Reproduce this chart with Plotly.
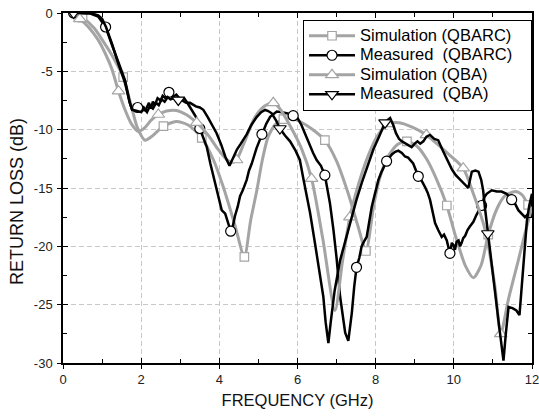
import plotly.graph_objects as go

# ---------------- data ----------------
sim_qbarc_f = [0.3, 0.5, 0.8, 1.1, 1.3, 1.54, 1.75, 1.9, 2.1, 2.3, 2.57, 2.9, 3.2, 3.55, 3.85, 4.1, 4.4, 4.64,
               4.8, 4.96, 5.1, 5.25, 5.45, 5.64, 5.85, 6.06, 6.35, 6.7, 7.0, 7.3, 7.55, 7.75, 7.95, 8.1, 8.3,
               8.55, 8.8, 9.05, 9.3, 9.55, 9.82, 10.05, 10.3, 10.5, 10.7, 10.88, 11.1, 11.3, 11.57, 11.75, 11.9, 12.0]
sim_qbarc_db = [-0.1, -0.4, -1.3, -2.8, -3.9, -5.5, -8.0, -9.8, -10.9, -10.5, -9.7, -9.3, -9.6, -10.7, -12.6, -14.9,
                -18.2, -20.9, -17.8, -15.2, -12.6, -10.6, -9.5, -9.1, -9.0, -9.3, -9.9, -10.9, -12.7, -15.5, -18.3,
                -20.4, -16.5, -14.2, -12.4, -11.3, -11.0, -11.4, -12.5, -14.2, -16.5, -19.2, -21.7, -22.7, -21.6,
                -19.0, -16.8, -15.7, -15.3, -15.6, -16.45, -17.0]
sim_qbarc_marks = [0.5, 1.54, 2.57, 3.55, 4.64, 5.64, 6.7, 7.75, 8.8, 9.82, 10.88, 11.9]

meas_qbarc_f = [0.27, 0.5, 0.7, 0.9, 1.09, 1.25, 1.42, 1.59, 1.71, 1.77, 1.85, 1.91, 2.0, 2.05, 2.1, 2.15, 2.2, 2.25,
                2.3, 2.35, 2.42, 2.5, 2.55, 2.62, 2.71, 2.8, 2.9, 3.0, 3.1, 3.2, 3.3, 3.4, 3.5, 3.6, 3.68, 3.77,
                3.85, 3.93, 4.0, 4.06, 4.15, 4.22, 4.29, 4.35, 4.4, 4.47, 4.53, 4.6, 4.7, 4.76, 4.83, 4.95, 5.09,
                5.2, 5.3, 5.4, 5.47, 5.6, 5.75, 5.89, 6.0, 6.1, 6.2, 6.32, 6.4, 6.49, 6.6, 6.7, 6.76, 6.83, 6.92,
                7.0, 7.09, 7.16, 7.22, 7.3, 7.35, 7.39, 7.45, 7.51, 7.58, 7.64, 7.7, 7.77, 7.84, 7.9, 7.98, 8.07,
                8.14, 8.2, 8.28, 8.35, 8.42, 8.5, 8.58, 8.67, 8.75, 8.83, 8.96, 9.09, 9.18, 9.26, 9.33, 9.39, 9.45,
                9.52, 9.6, 9.65, 9.69, 9.75, 9.82, 9.87, 9.9, 9.95, 9.99, 10.03, 10.07, 10.12, 10.16, 10.2, 10.24,
                10.29, 10.35, 10.41, 10.5, 10.58, 10.64, 10.71, 10.78, 10.84, 10.97, 11.1, 11.22, 11.35, 11.48,
                11.56, 11.65, 11.74, 11.82, 11.91, 11.97, 12.0]
meas_qbarc_db = [0.0, 0.0, -0.05, -0.3, -1.2, -2.7, -4.3, -5.8, -7.7, -8.3, -8.3, -8.1, -8.3, -8.0, -8.4, -8.1, -7.7,
                 -8.2, -7.6, -7.9, -7.3, -7.5, -7.1, -7.3, -6.8, -7.2, -7.0, -7.4, -7.3, -7.8, -8.4, -8.9, -9.9,
                 -10.7, -11.5, -12.9, -14.0, -15.2, -16.0, -16.9, -17.2, -18.0, -18.7, -18.2, -17.4, -16.6, -15.7,
                 -15.2, -14.3, -13.5, -12.9, -11.6, -10.4, -9.5, -8.9, -8.6, -8.45, -8.5, -8.6, -8.8, -9.0, -9.6,
                 -10.4, -11.5, -12.0, -12.6, -13.1, -13.9, -15.0, -16.3, -18.6, -21.0, -24.3, -26.2, -27.4, -28.1,
                 -27.0, -25.7, -23.5, -21.8, -21.0, -20.0, -19.6, -19.2, -17.8, -16.6, -15.5, -14.3, -13.7, -13.2,
                 -12.7, -12.4, -12.1, -11.9, -11.8, -12.0, -12.3, -12.4, -12.9, -14.0, -14.4, -14.9, -15.4, -16.0,
                 -17.0, -18.0, -18.6, -18.9, -19.2, -19.0, -19.5, -20.2, -20.6, -19.7, -19.9, -20.3, -19.6, -19.5,
                 -20.0, -19.7, -19.3, -19.1, -18.6, -18.3, -17.9, -17.3, -16.9, -16.5, -15.8, -15.5, -15.2, -15.3,
                 -15.3, -15.5, -16.0, -16.3, -16.9, -17.2, -17.5, -17.2, -17.5, -16.0]
meas_qbarc_marks = [0.27, 1.09, 1.91, 2.71, 3.5, 4.29, 5.09, 5.89, 6.7, 7.51, 8.28, 9.09, 9.9, 10.71, 11.48]

sim_qba_f = [0.35, 0.43, 0.65, 0.9, 1.1, 1.25, 1.42, 1.6, 1.75, 1.93, 2.1, 2.25, 2.44, 2.65, 2.9, 3.15, 3.42, 3.7,
             3.95, 4.2, 4.35, 4.44, 4.65, 4.9, 5.15, 5.38, 5.55, 5.8, 6.1, 6.36, 6.65, 6.96, 7.15, 7.34, 7.55, 7.8,
             8.05, 8.32, 8.6, 8.95, 9.3, 9.6, 9.9, 10.24, 10.5, 10.8, 11.05, 11.2, 11.4, 11.65, 11.85, 12.0]
sim_qba_db = [-0.3, -0.5, -1.2, -2.3, -3.6, -4.8, -6.7, -8.4, -9.5, -10.15, -9.8, -9.2, -8.7, -8.4, -8.35, -8.7,
              -9.4, -10.4, -11.6, -12.6, -12.8, -12.6, -11.0, -9.0, -8.0, -7.7, -8.2, -9.6, -11.6, -14.2, -19.4,
              -25.5, -21.3, -17.5, -14.8, -12.3, -10.5, -9.5, -9.4, -9.8, -10.45, -11.3, -12.2, -13.3, -15.5,
              -18.6, -23.4, -27.5, -24.5, -21.2, -18.5, -16.6]
sim_qba_marks = [0.43, 1.42, 2.44, 3.42, 4.44, 5.38, 6.36, 7.34, 8.32, 9.3, 10.24, 11.2]

meas_qba_f = [0.27, 0.5, 0.7, 0.9, 1.0, 1.1, 1.25, 1.42, 1.59, 1.7, 1.77, 1.9, 2.0, 2.08, 2.15, 2.22, 2.3, 2.38,
              2.45, 2.52, 2.6, 2.68, 2.75, 2.85, 2.95, 3.05, 3.15, 3.25, 3.4, 3.5, 3.59, 3.7, 3.8, 3.93, 4.05, 4.15,
              4.26, 4.35, 4.45, 4.55, 4.7, 4.82, 4.96, 5.07, 5.17, 5.25, 5.34, 5.45, 5.55, 5.68, 5.81, 5.95, 6.06,
              6.15, 6.24, 6.32, 6.45, 6.55, 6.66, 6.72, 6.79, 6.85, 6.95, 7.09, 7.2, 7.35, 7.51, 7.65, 7.8, 7.94,
              8.1, 8.24, 8.37, 8.45, 8.52, 8.6, 8.67, 8.8, 8.92, 9.0, 9.07, 9.14, 9.22, 9.3, 9.39, 9.5, 9.6, 9.72,
              9.82, 9.95, 10.05, 10.16, 10.25, 10.33, 10.37, 10.42, 10.46, 10.55, 10.63, 10.7, 10.75, 10.8, 10.87,
              10.95, 11.05, 11.15, 11.27, 11.33, 11.4, 11.5, 11.6, 11.68, 11.75, 11.82, 11.87, 11.93, 12.0]
meas_qba_db = [0.0, 0.0, 0.0, -0.2, -0.5, -1.2, -2.6, -4.4, -6.0, -7.6, -8.3, -8.4, -8.5, -8.2, -8.5, -8.0, -8.2,
               -7.7, -7.9, -7.4, -7.6, -7.2, -7.4, -7.3, -7.45, -7.5, -7.7, -7.7, -8.0, -8.1, -8.3, -8.9, -9.5,
               -10.3, -11.3, -12.3, -13.1, -12.5, -11.7, -11.2, -10.4, -9.6, -8.9, -8.5, -8.3, -8.4, -8.6, -9.2,
               -9.9, -10.5, -11.0, -11.8, -12.6, -14.2, -15.6, -17.1, -19.8, -22.0, -24.3, -26.5, -28.3, -26.5,
               -23.8, -21.2, -19.8, -17.8, -16.0, -14.5, -13.0, -11.7, -10.5, -9.4, -9.0, -9.6, -10.3, -10.8,
               -11.0, -11.3, -11.5, -11.2, -11.0, -11.2, -11.0, -10.6, -10.45, -10.8, -10.9, -11.8, -12.5, -13.4,
               -13.9, -14.3, -14.6, -14.9, -15.0, -14.2, -13.6, -13.5, -13.6, -14.3, -15.2, -16.8, -18.9, -21.0,
               -23.8, -26.6, -29.8, -27.5, -25.2, -25.3, -25.5, -25.9, -22.8, -20.0, -17.8, -16.5, -15.5]
meas_qba_marks = [0.27, 2.95, 5.55, 8.24, 10.87]

x_tick_vals = [0, 2, 4, 6, 8, 10, 12]
y_tick_vals = [0, -5, -10, -15, -20, -25, -30]

# ---------------- styling ----------------
GRAY = "#a4a4a4"
BLACK = "#000000"
FONT = "Liberation Sans, Arial, sans-serif"
LEG_PX = 16.5   # legend text size (drawn via span)
LEG_ROW = 12.7  # legend font size that sets the row pitch

series = [
    ("Simulation (QBARC)", sim_qbarc_f, sim_qbarc_db, sim_qbarc_marks, GRAY, 3, "square", 8.5, "spline"),
    ("Measured  (QBARC)", meas_qbarc_f, meas_qbarc_db, meas_qbarc_marks, BLACK, 2.5, "circle", 10, "linear"),
    ("Simulation (QBA)", sim_qba_f, sim_qba_db, sim_qba_marks, GRAY, 3, "triangle-up", 11, "spline"),
    ("Measured  (QBA)", meas_qba_f, meas_qba_db, meas_qba_marks, BLACK, 2.5, "triangle-down", 11, "linear"),
]

fig = go.Figure()
for name, fx, fy, marks, color, lw, sym, ms, shape in series:
    lookup = dict(zip(fx, fy))
    my = [lookup[m] for m in marks]
    line = dict(color=color, width=lw, shape=shape)
    if shape == "spline":
        line["smoothing"] = 0.7
    fig.add_trace(go.Scatter(x=fx, y=fy, mode="lines", line=line, showlegend=False, hoverinfo="skip"))
    mk = dict(symbol=sym, size=ms, color="white", line=dict(color=color, width=1.2))
    fig.add_trace(go.Scatter(x=marks, y=my, mode="markers", marker=mk, showlegend=False))
    label = '<span style="font-size:%spx">%s&nbsp;&nbsp;&nbsp;</span>' % (LEG_PX, name.replace("  ", "&nbsp; "))
    fig.add_trace(go.Scatter(x=[None], y=[None], mode="lines+markers", name=label,
                             line=dict(color=color, width=lw), marker=mk, xaxis="x2", yaxis="y2"))

axis_common = dict(
    showline=True, linecolor="black", linewidth=1.5, mirror="allticks",
    ticks="inside", ticklen=5, tickwidth=1.3, tickcolor="black",
    showgrid=True, gridcolor="#c8c8c8", griddash="5px,3px", gridwidth=1,
    zeroline=False, automargin=False, ticklabeloverflow="allow",
    tickfont=dict(family=FONT, size=13, color="#222"),
)

fig.update_xaxes(range=[0, 12], tickvals=x_tick_vals, ticktext=[str(v) for v in x_tick_vals],
                 title=dict(text="FREQUENCY (GHz)", font=dict(family=FONT, size=16.5, color="#111"), standoff=8),
                 minor=dict(dtick=1, ticks="inside", ticklen=4, tickcolor="black", showgrid=False),
                 ticklabelstandoff=4, **axis_common)
fig.update_yaxes(range=[-30, 0], tickvals=y_tick_vals, ticktext=[str(v) for v in y_tick_vals],
                 minor=dict(dtick=2.5, ticks="inside", ticklen=4, tickcolor="black", showgrid=False),
                 ticklabelstandoff=6, **axis_common)

# overlay axes: give the major ticks their outer half (ticks crossing the frame)
stub = dict(showline=False, showgrid=False, zeroline=False, showticklabels=False,
            ticks="outside", ticklen=5, tickwidth=1.3, tickcolor="black", automargin=False)
fig.update_layout(
    xaxis2=dict(overlaying="x", side="bottom", range=[0, 12], tickvals=x_tick_vals, **stub),
    yaxis2=dict(overlaying="y", side="left", range=[-30, 0], tickvals=y_tick_vals, **stub),
)

# y-axis title (placed a little below the axis middle, as in the reference)
fig.add_annotation(text="RETURN LOSS (dB)", textangle=-90, xref="paper", yref="paper",
                   x=-0.098, y=0.46, xanchor="center", yanchor="middle", showarrow=False,
                   font=dict(family=FONT, size=18, color="#111"))

fig.update_layout(
    width=539, height=417,
    margin=dict(l=63, r=7, t=13, b=54),
    paper_bgcolor="white", plot_bgcolor="white",
    font=dict(family=FONT, size=15, color="black"),
    legend=dict(x=1.0, y=0.98, xanchor="right", yanchor="top",
                bgcolor="white", bordercolor="black", borderwidth=1,
                font=dict(family=FONT, size=LEG_ROW, color="black"),
                tracegroupgap=0, itemwidth=46),
)

# remove the page's default 8px body margin so the 539x417 figure fills the window exactly
fig.write_html("out.html", config={"displayModeBar": False},
               post_script="document.body.style.margin='0';document.body.style.overflow='hidden';")
